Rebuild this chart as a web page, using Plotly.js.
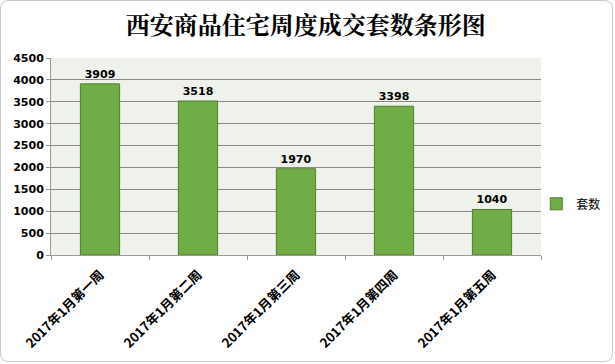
<!DOCTYPE html>
<html><head><meta charset="utf-8">
<script src="https://cdn.plot.ly/plotly-3.0.1.min.js"></script>
<style>body{margin:0;background:#fff}#w{position:relative;width:615px;height:364px}#c{width:615px;height:364px}
#f{position:absolute;left:0;top:0;width:611px;height:360px;border:1px solid #c8c8c8;border-radius:8px;pointer-events:none}</style>
</head><body><div id="w"><div id="c"></div><div id="f"></div></div>
<script>
const categories = ["2017年1月第一周","2017年1月第二周","2017年1月第三周","2017年1月第四周","2017年1月第五周"];
const values = [3909, 3518, 1970, 3398, 1040];
const seriesName = "套数";
const yTicks = [0,500,1000,1500,2000,2500,3000,3500,4000,4500];

Plotly.newPlot("c", [{
  type: "bar", x: categories, y: values, name: seriesName,
  marker: {color: "#70ad47", line: {color: "#4f7d33", width: 1}},
  text: values.map(v => "<b>" + v + "</b>"), textposition: "outside", cliponaxis: false,
  textfont: {family: "DejaVu Sans, Arial", size: 11, color: "#000"},
  showlegend: true
}], {
  width: 615, height: 364,
  margin: {l: 51, r: 74, t: 58, b: 109, autoexpand: false},
  paper_bgcolor: "rgba(0,0,0,0)", plot_bgcolor: "#eef2ea",
  title: {text: "<b>西安商品住宅周度成交套数条形图</b>", x: 0.497, xanchor: "center", y: 0.93, yanchor: "middle",
    font: {family: "Noto Serif CJK SC, Noto Sans CJK SC", size: 24, color: "#000"}},
  bargap: 0.6,
  xaxis: {tickangle: -45, tickfont: {family: "Noto Sans CJK SC", size: 13, color: "#000", weight: "bold"},
    ticklabelstandoff: 6,
    showline: true, linecolor: "#999", ticks: "outside", ticklen: 4, tickcolor: "#999", tickson: "boundaries"},
  yaxis: {range: [0, 4500], tickvals: yTicks, showgrid: true, gridcolor: "#888", gridwidth: 1,
    showline: true, linecolor: "#999", ticks: "outside", ticklen: 4, tickcolor: "#999",
    tickfont: {family: "DejaVu Sans, Arial", size: 11, color: "#000", weight: "bold"}, zeroline: false},
  legend: {xref: "container", yref: "container", x: 0.872, y: 0.44, xanchor: "left", yanchor: "middle",
    itemwidth: 30, tracegroupgap: 0, bgcolor: "rgba(0,0,0,0)",
    font: {family: "Noto Sans CJK SC", size: 12, color: "#000"}}
}, {displayModeBar: false});
</script></body></html>
